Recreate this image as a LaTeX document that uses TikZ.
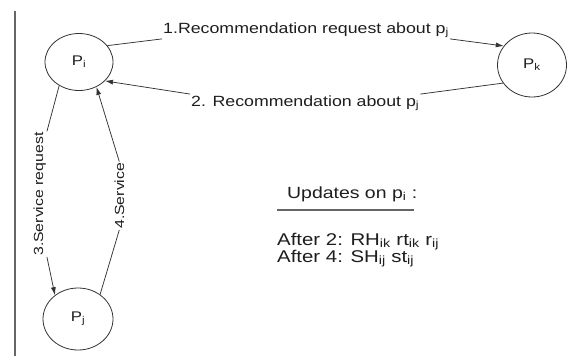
\documentclass[tikz,border=0pt]{standalone}
\usepackage{fontspec}
\setmainfont{Liberation Sans}[FakeStretch=1.2]
\usetikzlibrary{arrows.meta,shapes.geometric}
\definecolor{ink}{HTML}{1E1E1E}
\definecolor{wire}{HTML}{333333}
\definecolor{rulegray}{HTML}{666666}
\tikzset{
  peer/.style={ellipse, draw=wire, line width=0.8pt, inner sep=0pt, font=\fontsize{14}{16}\selectfont, text=ink},
  lab/.style={inner sep=1pt, font=\fontsize{14.8}{17}\selectfont, text=ink},
  vlab/.style={lab, rotate=90, font=\fontsize{13.2}{15}\selectfont},
  link/.style={draw=wire, line width=0.75pt},
  arr/.style={link, -{Latex[length=8pt,width=5pt]}},
  note/.style={inner sep=0pt, anchor=base west, text=ink},
}
\begin{document}
\begin{tikzpicture}[x=1pt,y=-1pt]
  \fill[white] (0,0) rectangle (576,356);
  \draw[rulegray, line width=2pt] (15,11) -- (15,356);
  % the three peers
  \node[peer, minimum width=68pt, minimum height=57pt] (pi) at (79,62) {P\textsubscript{i}};
  \node[peer, minimum width=69pt, minimum height=64pt] (pk) at (532,65) {P\textsubscript{k}};
  \node[peer, minimum width=70pt, minimum height=62pt] (pj) at (78,319) {P\textsubscript{j}};
  % message labels
  \node[lab, anchor=base west] (req) at (162,33) {1.Recommendation request about p\textsubscript{j}};
  \node[lab, anchor=base west] (rec) at (190,106) {2. Recommendation about p\textsubscript{j}};
  \node[vlab, anchor=base west] (sreq) at (43,257) {3.Service request};
  \node[vlab, anchor=base west] (serv) at (124,230) {4.Service};
  % message flow
  \draw[link] (pi.30) -- (req.south west);
  \draw[arr] (req.south east) -- (pk.146);
  \draw[link] (pk.212) -- (rec.north east);
  \draw[arr] (rec.north west) -- (pi.324);
  \draw[link] (pi.230) -- (sreq.south east);
  \draw[arr] (sreq.south west) -- (pj.134);
  \draw[link] (pj.48) -- (serv.west);
  \draw[arr] (serv.east) -- (pi.305);
  % updates kept at p_i
  \node[note, font=\fontsize{16.2}{18}\selectfont] (upd) at (287,198) {Updates on p\textsubscript{i} :};
  \draw[rulegray, line width=1.4pt] (277,210) -- (414,210);
  \node[note, font=\fontsize{17}{18}\selectfont] (aft2) at (277,245) {After 2: RH\textsubscript{ik} rt\textsubscript{ik} r\textsubscript{ij}};
  \node[note, font=\fontsize{17}{18}\selectfont] (aft4) at (277,262) {After 4: SH\textsubscript{ij} st\textsubscript{ij}};
\end{tikzpicture}
\end{document}
